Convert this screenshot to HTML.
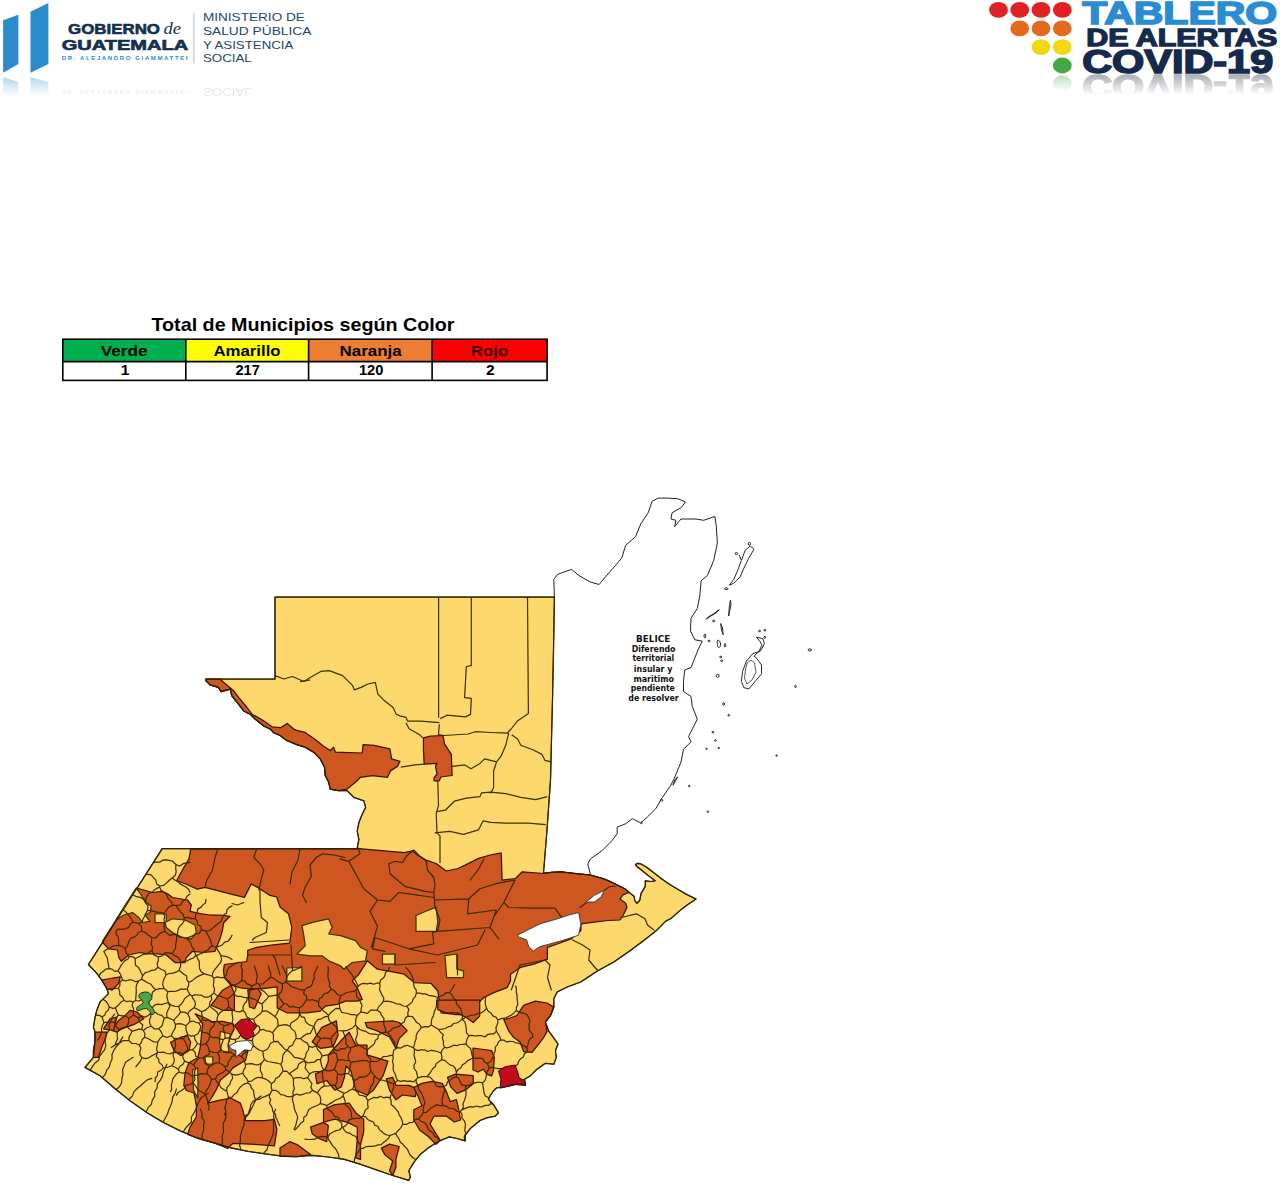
<!DOCTYPE html>
<html lang="es"><head><meta charset="utf-8"><title>Tablero de Alertas COVID-19</title>
<style>
html,body{margin:0;padding:0;background:#fff;}
body{width:1280px;height:1192px;overflow:hidden;}
svg{display:block;}
.y{fill:#FDD86C;stroke:#3b3400;stroke-width:1.25;stroke-linejoin:round}
.o{fill:#CE5621;stroke:#3b1200;stroke-width:1.25;stroke-linejoin:round}
.r{fill:#C10A1E;stroke:#3b0000;stroke-width:1;stroke-linejoin:round}
.g{fill:#4FA54F;stroke:#1e3300;stroke-width:1;stroke-linejoin:round}
.w{fill:#fff;stroke:#222;stroke-width:0.8;stroke-linejoin:round}
.l{fill:none;stroke:#3b3000;stroke-width:1.2;stroke-linejoin:round}
.m{fill:none;stroke:#3b2a00;stroke-width:1.2;stroke-linejoin:round;stroke-linecap:round}
.b{fill:none;stroke:#222;stroke-width:1;stroke-linejoin:round}
.ol{fill:none;stroke:#2a2400;stroke-width:1.1;stroke-linejoin:round}
.isl{fill:none;stroke:#111;stroke-width:0.9}
.hd{font-family:"Liberation Sans",Arial,sans-serif;font-weight:bold;}
</style></head>
<body>
<svg width="1280" height="1192" viewBox="0 0 1280 1192">
<defs>
<linearGradient id="fadeL" x1="0" y1="0" x2="0" y2="1"><stop offset="0" stop-color="#2C8BCB" stop-opacity="0.35"/><stop offset="1" stop-color="#2C8BCB" stop-opacity="0"/></linearGradient>
<linearGradient id="fadeG" x1="0" y1="0" x2="0" y2="1"><stop offset="0" stop-color="#9a9a9a" stop-opacity="0.45"/><stop offset="1" stop-color="#bbbbbb" stop-opacity="0"/></linearGradient>
<linearGradient id="mgrad" x1="0" y1="0" x2="0" y2="1"><stop offset="0" stop-color="#fff" stop-opacity="0.75"/><stop offset="0.8" stop-color="#fff" stop-opacity="0"/></linearGradient>
<linearGradient id="fadeGr" x1="0" y1="0" x2="0" y2="1"><stop offset="0" stop-color="#44A840" stop-opacity="0.35"/><stop offset="1" stop-color="#44A840" stop-opacity="0"/></linearGradient>
</defs>
<!-- Left logo -->
<g>
<polygon points="3.1,20.3 18.4,14.8 18.4,64 3.1,72.7" fill="#2C8BCB"/>
<polygon points="30.5,11.7 48.4,3.1 48.4,64 30.5,72.7" fill="#2C8BCB"/>
<polygon points="3.1,77 18.4,82 18.4,96 3.1,96" fill="url(#fadeL)"/>
<polygon points="30.5,77 48.4,82 48.4,96 30.5,96" fill="url(#fadeL)"/>
<text class="hd" x="68" y="33.6" font-size="15" fill="#15304f" stroke="#15304f" stroke-width="0.6" textLength="92" lengthAdjust="spacingAndGlyphs">GOBIERNO</text>
<text x="163.5" y="33.6" font-family="'Liberation Serif',serif" font-style="italic" font-size="17" fill="#15304f" textLength="17.5" lengthAdjust="spacingAndGlyphs">de</text>
<text class="hd" x="61.7" y="49.5" font-size="15.5" fill="#15304f" stroke="#15304f" stroke-width="0.7" textLength="126.6" lengthAdjust="spacingAndGlyphs">GUATEMALA</text>
<text class="hd" x="61.7" y="59.8" font-size="6" fill="#2C8BCB" textLength="125.8" lengthAdjust="spacing">DR. ALEJANDRO GIAMMATTEI</text>
<rect x="193" y="12.6" width="1.6" height="50.9" fill="#CCD3DC"/>
<g font-family="'Liberation Sans',Arial,sans-serif" font-size="11.3" fill="#25476b">
<text x="202.9" y="21.3" textLength="102" lengthAdjust="spacingAndGlyphs">MINISTERIO DE</text>
<text x="202.9" y="34.8" textLength="108.5" lengthAdjust="spacingAndGlyphs">SALUD PÚBLICA</text>
<text x="202.9" y="48.7" textLength="90.5" lengthAdjust="spacingAndGlyphs">Y ASISTENCIA</text>
<text x="202.9" y="62.4" textLength="48.9" lengthAdjust="spacingAndGlyphs">SOCIAL</text>
</g>
<g opacity="0.12" transform="translate(0,150) scale(1,-1)">
<text class="hd" x="61.7" y="59.8" font-size="6" fill="#2C8BCB" textLength="125.8" lengthAdjust="spacing">DR. ALEJANDRO GIAMMATTEI</text>
<text x="202.9" y="62.4" font-family="'Liberation Sans',Arial,sans-serif" font-size="11.3" fill="#25476b" textLength="48.9" lengthAdjust="spacingAndGlyphs">SOCIAL</text>
</g>
</g>
<!-- Right logo -->
<g>
<ellipse cx="998.5" cy="9.9" rx="9.4" ry="7.9" fill="#E02222"/>
<ellipse cx="1019.7" cy="9.9" rx="9.4" ry="7.9" fill="#E02222"/>
<ellipse cx="1041" cy="9.9" rx="9.4" ry="7.9" fill="#E02222"/>
<ellipse cx="1062.3" cy="9.9" rx="9.4" ry="7.9" fill="#E02222"/>
<ellipse cx="1019.7" cy="28.4" rx="9.4" ry="7.9" fill="#E46A1F"/>
<ellipse cx="1041" cy="28.4" rx="9.4" ry="7.9" fill="#E46A1F"/>
<ellipse cx="1062.3" cy="28.4" rx="9.4" ry="7.9" fill="#E46A1F"/>
<ellipse cx="1041" cy="47.1" rx="9.4" ry="7.9" fill="#F0D816"/>
<ellipse cx="1062.3" cy="47.1" rx="9.4" ry="7.9" fill="#F0D816"/>
<ellipse cx="1062.3" cy="65.5" rx="9.4" ry="7.9" fill="#45A843"/>
<ellipse cx="1062.3" cy="83.5" rx="9.4" ry="7.9" fill="url(#fadeGr)"/>
<text class="hd" x="1082.2" y="24" font-size="31.8" fill="#2A8DD4" stroke="#2A8DD4" stroke-width="1.6" textLength="195" lengthAdjust="spacingAndGlyphs">TABLERO</text>
<text class="hd" x="1086.2" y="46.4" font-size="24" fill="#152a4c" stroke="#152a4c" stroke-width="1.3" textLength="191" lengthAdjust="spacingAndGlyphs">DE ALERTAS</text>
<text class="hd" x="1082.2" y="72.5" font-size="33" fill="#152a4c" stroke="#152a4c" stroke-width="1.6" textLength="191" lengthAdjust="spacingAndGlyphs">COVID-19</text>
<mask id="mR" maskUnits="userSpaceOnUse" x="1070" y="74" width="210" height="26"><rect x="1070" y="74" width="210" height="26" fill="url(#mgrad)"/></mask>
<g mask="url(#mR)"><text class="hd" x="1082.2" y="-75" transform="scale(1,-1)" font-size="33" fill="#8a8f99" stroke="#8a8f99" stroke-width="1.6" textLength="191" lengthAdjust="spacingAndGlyphs">COVID-19</text></g>
</g>
<!-- Table -->
<g>
<text x="151.5" y="331.3" font-family="'Liberation Sans',Arial,sans-serif" font-weight="bold" font-size="18.6" fill="#000" textLength="303" lengthAdjust="spacingAndGlyphs">Total de Municipios según Color</text>
<rect x="62.8" y="339.2" width="123" height="22.4" fill="#00B050"/>
<rect x="185.8" y="339.2" width="123" height="22.4" fill="#FFFF00"/>
<rect x="308.6" y="339.2" width="123.5" height="22.4" fill="#ED7D31"/>
<rect x="432.1" y="339.2" width="115" height="22.4" fill="#FF0000"/>
<rect x="62.8" y="361.6" width="484.3" height="18.8" fill="#fff"/>
<g fill="none" stroke="#000" stroke-width="1.6">
<rect x="62.8" y="339.2" width="484.3" height="41.2"/>
<line x1="62.8" y1="361.6" x2="547.1" y2="361.6"/>
<line x1="185.8" y1="339.2" x2="185.8" y2="380.4"/>
<line x1="308.6" y1="339.2" x2="308.6" y2="380.4"/>
<line x1="432.1" y1="339.2" x2="432.1" y2="380.4"/>
</g>
<g font-family="'Liberation Sans',Arial,sans-serif" font-weight="bold" font-size="15.5" text-anchor="middle" fill="#000">
<text x="124.1" y="355.7" textLength="46.7" lengthAdjust="spacingAndGlyphs">Verde</text>
<text x="247" y="355.7" textLength="67.1" lengthAdjust="spacingAndGlyphs">Amarillo</text>
<text x="370.6" y="355.7" textLength="62" lengthAdjust="spacingAndGlyphs">Naranja</text>
<text x="489.5" y="355.7" textLength="37.6" lengthAdjust="spacingAndGlyphs" fill="#3a0000">Rojo</text>
<text x="125" y="375">1</text>
<text x="247.6" y="375" textLength="24.4" lengthAdjust="spacingAndGlyphs">217</text>
<text x="371.1" y="375" textLength="24.4" lengthAdjust="spacingAndGlyphs">120</text>
<text x="490.3" y="375">2</text>
</g>
</g>
<!-- Map -->
<g>
<polygon class="y" points="275,597 554.4,597 553.5,650 552.5,700 550.5,780 547,830 543.5,873 551.7,872.4 560.8,871.8 573.6,873.3 590.3,875 603.1,878.7 611.6,882.2 617.2,885 625.6,889.2 628.5,892 634.1,896.3 634.8,900.5 636.9,903.3 639.7,900.5 641.1,893.4 645.3,886.4 645.3,880.8 651,881.5 655.2,880.8 649.5,876.6 642.5,871 637,866.5 635.5,864.8 636.5,863.6 639,863.4 641.5,864.2 646.7,867.2 653.8,872.8 662.2,879.2 670.6,885 684.7,893.4 696,899.1 691.7,901.9 687.5,904.7 681.9,908.9 670.6,918.8 665.8,921.1 655.8,931.1 644.4,940 631,950 614.2,961.8 597.4,971 580.7,982 567.2,987 557.2,992 553.8,998.7 553.8,1007.1 550.5,1015.5 545.4,1022.2 548.8,1031.4 552.1,1035.6 558,1044 555.5,1050.7 556.3,1057.4 553.8,1064.2 545.4,1063.3 537,1069.2 530.3,1075.9 524.5,1079.3 525.3,1085.1 513.6,1084.3 501.8,1087.7 496.8,1087.7 493.4,1091 490,1096 488.4,1099.4 493.4,1104.4 498.5,1112.8 495.1,1116.2 486.7,1117.9 480,1120.5 470,1128.8 465.2,1135.3 465.2,1140.9 457.1,1138.5 449.1,1136.9 437.8,1141.7 428.1,1148.1 420.1,1154.6 413.7,1162.6 408.8,1170.7 410.4,1177.1 408.8,1180.4 392.7,1175.5 376.6,1169.9 360.5,1164.3 344.4,1159.4 328.3,1157 312.2,1155.4 296.1,1156.5 280,1155.8 264.6,1153.8 247.8,1151.3 231,1147.9 214.2,1142.9 197.4,1137.9 180.7,1131.1 163.9,1122.8 147.1,1112.7 130.3,1100.9 113.6,1087.5 100.1,1075.8 85,1067.4 93.4,1057.3 93.4,1050.6 95.1,1040.5 95.1,1032.1 93.4,1027.1 95.1,1017 96.8,1010.3 100.1,1001.9 108.5,993.6 106.8,988.5 101.8,980.1 96.8,973.4 88.4,964.5 101.8,943.6 137,888.2 162.2,848.6 358.9,848.6 357.2,847.8 358.9,839.4 357.2,831 358.9,822.6 362.2,814.2 365.6,807.5 363.9,800.8 353.8,797.4 347.1,790.7 338.7,790.7 330.3,789.1 328.7,782.3 325.3,775.6 324.5,767.2 320.3,758.9 313.6,752.1 305.2,747.1 296.8,744.6 286.7,740.4 280,735.4 273.8,732.7 270.5,729.3 263.8,726 255.4,719.3 250.3,714.2 243.6,710.9 238.6,704.2 235.2,700 231.9,695.8 230.2,689.1 221,691.6 218.5,687.4 210.1,684.9 205.9,680.7 205.9,679 275,679"/>
<polygon class="o" points="205.9,679 220.1,679 223.5,682.3 233.6,690.7 238.6,697.4 247,707.5 252,714.2 263.8,720.9 272.1,726.8 280.5,727.7 287.2,723.5 294,729.3 296.8,730.3 305.7,732.7 306.8,733.7 315.2,739.6 323.6,746.3 330.3,750.5 333.7,747.1 335.4,752.1 362.2,753 363.1,744.6 374,745.4 389.9,748.8 391.6,758.9 400,761.4 397.4,766.4 390.7,770.6 387.4,777.3 372.3,775.6 360.5,777.3 355.5,782.3 347.1,789.1 338.7,790.7 330.3,789.1 328.7,782.3 325.3,775.6 324.5,767.2 320.3,758.9 313.6,752.1 305.2,747.1 296.8,744.6 286.7,740.4 280,735.4 273.8,732.7 270.5,729.3 263.8,726 255.4,719.3 250.3,714.2 243.6,710.9 238.6,704.2 235.2,700 231.9,695.8 230.2,689.1 221,691.6 218.5,687.4 210.1,684.9 205.9,680.7"/>
<polygon class="o" points="423.5,737.9 430.2,736.2 443,735.5 444.5,743.8 451.3,754.4 452.1,775.5 440.8,777 439.3,780.8 434,780.8 434,777.8 437,774 435.5,766.4 437,763.4 424.2,764.2 423.4,749.8"/>
<polygon class="o" points="190.7,849 358.9,848.6 404.2,852.6 412.6,850.9 417.7,855.1 426,860.1 436.1,863.5 446.2,871 457.9,868.5 465.2,865.1 478.6,858.4 490.3,855 498.7,853.4 501.2,853 502.1,880.2 515.5,878.5 522.2,871.8 544,873.5 551.7,872.4 560.8,871.8 573.6,873.3 590.5,875.2 603.1,878.7 611.6,882.2 617.2,885 625.6,889.2 628.8,892.5 622.8,894.9 620,899.1 625.6,903.3 627,907.5 622.8,916 620,920 607.8,920.5 594.4,922.1 581,923.8 580.9,930.5 570.9,938.9 557.4,944 547.4,947.3 547.4,959.1 534,964.1 520.5,967.4 510.5,974.2 510.5,980.9 507.1,987.6 493.7,992.6 483.6,997.7 476.9,1004.4 470,1014.5 454.6,1014.5 441.1,1012.8 437.8,991 431.1,983.5 414.3,982.6 404.2,974.2 387.4,970.9 377.4,969.2 367.3,960.8 358.9,974.2 352.2,980.9 357.2,987.7 362.3,999.4 357.2,1001.1 345.5,1001.1 337.1,1004.4 325.4,1006.1 320.3,1011.1 306.9,1012.8 286.8,1012.8 277.2,1008 277.2,986.9 260.9,988.9 248.8,988.9 240.6,987.9 230.5,984.8 224.4,977.7 223.4,970.6 224.4,964.5 246.7,961.5 247.7,955.4 247.7,950.3 256.9,947.3 271.1,945.2 289.4,943.2 290.1,940.7 291.8,927.2 288.5,913.8 280.1,907.1 276.7,897 270,895.4 257.9,887.4 251.1,884 249.5,887.4 244.4,897.4 231,894.1 217.6,890.7 205,887.4 197.4,889.1 185.7,884 176.5,880.7 184,867.2 189,858.9"/>
<polygon class="o" points="136.3,888.1 143.8,890 152.5,892.5 162.5,891.3 167.5,893.8 172.5,897.5 187.5,900 191.3,905 190,911.3 201.3,913.8 210,915 220,915 230,916.3 223.8,922.5 222.5,930 220,938.8 217.5,945 215,951.3 203.8,952.5 192.5,951.3 186.3,957.5 185,962.5 175,962.5 166.3,955 157.5,953.8 147.5,953.8 140,952.5 128.8,955 121.3,961.3 118.8,957.5 117.5,950 108.8,948.8 103.8,943.8 102.5,941.3"/>
<polygon class="o" points="101.8,980.1 110.2,978.5 120.3,976.8 118.6,983.5 111.9,990.2 106.8,988.5"/>
<polygon class="o" points="130.3,1010.3 137,1012 143.8,1018.7 135.4,1023.8 121.9,1028.8 116.9,1032.1 111.9,1030.5 118.6,1020.4 125.3,1015.4"/>
<polygon class="o" points="103.5,1028.8 110.2,1018.7 116.9,1017 113.6,1030.5"/>
<polygon class="o" points="95.1,1032.1 106.8,1032.1 105.2,1038.9 101.8,1047.2 98.5,1057.3 93.4,1057.3 95.1,1040.5"/>
<polygon class="o" points="170.6,1042.2 180.7,1037.2 187.4,1035.5 190.7,1042.2 189,1050.6 180.7,1055.6 174,1050.6"/>
<polygon class="o" points="210.9,1005.3 222.6,990.2 231,985.2 234.4,993.6 234.4,1010.3 222.6,1010.3"/>
<polygon class="o" points="247.8,990.2 257.9,988.5 261.2,993.6 254.5,1008.7 249.5,1007"/>
<polygon class="o" points="195.2,1013.8 203,1017 212,1021.5 222.8,1021.3 232.9,1023.8 234.2,1028.9 230.4,1036.4 227.9,1045.2 235.4,1047.7 236.7,1052.8 240.4,1051.5 248,1050.3 245.5,1060.3 232.9,1067.9 229.1,1072.9 222.8,1077.9 220.3,1080.4 216.5,1089.2 211.5,1098 207.7,1103.1 217.8,1100.6 230.4,1098 240.4,1103.1 243,1110.6 245.5,1120.7 264.3,1120.7 274.4,1119.4 276.9,1129.5 274.4,1145.9 258,1144.6 232.9,1143.3 227.9,1148.4 214.2,1142.9 200.8,1139.5 187.6,1134.5 190.1,1127 196.4,1116.9 196.4,1105.6 193.9,1093 186.4,1090.5 183.8,1085.5 185.1,1072.9 188.9,1062.8 197.7,1057.8 200.2,1047.7 201.4,1035.2 202.7,1023.8"/>
<polygon class="o" points="312.2,1041.9 321.9,1027.4 336.4,1020.9 338,1035.4 333.1,1046.7 320.3,1048.3"/>
<polygon class="o" points="328.3,1054.8 344.4,1037 349.2,1032.2 355.7,1045.1 367,1045.1 367,1054.8 387.9,1061.2 383.1,1075.7 373.4,1090.2 367,1095 355.7,1090.2 350.9,1070.9 346,1066 344.4,1077.3 341.2,1087 334.8,1090.2 326.7,1080.5 317,1083.7 315.4,1074.1 325.1,1069.2 328.3,1061.2"/>
<polygon class="o" points="365.3,1022.5 392.7,1020.9 399.2,1022.5 407.2,1030.6 399.2,1038.6 395.9,1048.3 389.5,1037 376.6,1030.6 367,1027.4"/>
<polygon class="o" points="386.3,1078.9 392.7,1077.3 395.9,1085.3 408.8,1085.3 416.9,1088.6 415.3,1096.6 402.4,1095 395.9,1099.8 389.5,1090.2"/>
<polygon class="o" points="413.8,1087.5 421.9,1083.4 432,1081.4 442.2,1083.4 446.3,1091.6 450.3,1101.7 456.4,1099.7 458.4,1107.8 460.5,1120 454.4,1122 446.3,1116 434,1116 430,1124 440.2,1140.3 436.1,1144.4 428,1136.3 419.8,1130.2 413.8,1120 413.8,1109.8 421.9,1105.8 417.8,1095.6"/>
<polygon class="o" points="447.5,1077.3 455.5,1074.1 473.2,1075.7 473.2,1083.7 465.2,1090.2 457.1,1093.4 450.7,1086.9"/>
<polygon class="o" points="437.8,1000 479.7,1000 479.7,1016.1 473.2,1022.5 466.8,1017.7 457.1,1012.9 445.9,1012.9 437.8,1009.7"/>
<polygon class="o" points="323.5,1109.5 334.8,1104.7 349.2,1103.1 355.7,1112.7 363.7,1119.2 363.7,1132 360.5,1144.9 360.5,1159.4 355.7,1157.8 357.3,1138.5 357.3,1127.2 347.6,1122.4 334.8,1119.2 328.3,1120.8 323.5,1122.4"/>
<polygon class="o" points="310.6,1127.2 323.5,1122.4 328.3,1125.6 326.7,1141.7 318.6,1138.5 312.2,1133.7"/>
<polygon class="o" points="280,1148.1 289.7,1141.7 297.7,1144.9 304.2,1149.8 310.6,1154.6 296.1,1157 280,1156.2"/>
<polygon class="o" points="381.4,1148.1 389.5,1144.1 399.2,1146.5 395.9,1159.4 395.9,1167.5 392.7,1175.5 389.5,1170.7 392.7,1161 384.7,1154.6"/>
<polygon class="o" points="503.8,1019.5 510.2,1018 516.9,1015.5 523.6,1005.4 535.4,1001.2 547.1,1003 553.8,1007.1 550.5,1015.5 545.4,1022.2 547.1,1031.4 543.8,1037.3 538.7,1044 532,1052.4 523.6,1051.6 520.3,1042.3 513.6,1037.3 508.5,1030.6"/>
<polygon class="o" points="473,1048 480,1049 491.7,1050.7 494.3,1057.4 493.4,1070.9 491.7,1075.9 486.7,1074.2 483.4,1069.2 478,1072 473,1070"/>
<polygon class="y" points="301.9,925.6 313.6,922.2 328.7,918.9 332.1,927.2 328.7,934 340.5,935.6 355.6,940.7 360.6,947.4 367.3,950.7 365.6,960.8 352.2,962.5 343.8,969.2 340.5,965.8 328.7,960.8 322,955.8 310.3,955.8 296.8,954.1 305.2,945.7 303.6,934"/>
<polygon class="y" points="416,915.5 427.7,910.5 436.1,907.1 437.8,922.2 436.1,931.4 416,931.4"/>
<polygon class="y" points="382.4,954 395,954 395,964 382.4,964"/>
<polygon class="y" points="445,955.7 456.8,954 456.8,969.1 463.5,970.8 463.5,977.5 446.7,977.5"/>
<polygon class="y" points="286.8,968 301.9,967.5 301.9,981 286.8,981"/>
<polygon class="y" points="136.3,888.1 141.3,895 146.3,902.5 151.3,906.3 150,912.5 145,915 150,921.3 142.5,922.5 138.8,917.5 132.5,912.5 123.8,915 116,920 126,904"/>
<polygon class="y" points="155,913.8 166.3,914 166.3,922.5 155,922.5"/>
<polygon class="y" points="165,922.5 172.5,918.8 185,920 195,925 196.3,932.5 191.3,938.8 182.5,937.5 172.5,932.5 166.3,927.5"/>
<polygon class="y" points="220.3,1031.4 230.4,1034 228,1045 229,1052.8 221,1052 219.5,1042"/>
<polygon class="y" points="205.2,1056.5 212.8,1057 212.8,1064 205.2,1064"/>
<polygon class="y" points="192.6,1070 197.7,1068 198,1084 197.7,1098 193.5,1090"/>
<path class="m" d="M90.4,1069.9 92.6,1066.4 95,1063 98.7,1060.2 99.7,1056.2 102.1,1052.8 104.7,1049.6 105.8,1045.6 105,1040.8 105.8,1036.8 107.1,1032.9 109.6,1029.6 108.9,1024.8 110.7,1021.2 112,1017.4 114.6,1014.1M102.7,1077.4 105.4,1074.1 106.7,1070.2 109.4,1066.9 110.3,1062.8 112.1,1059.1 112,1054.4 113.7,1050.6 115.9,1047.1 118.8,1044 120.6,1040.3 123,1036.9M116.6,1089.2 119.7,1086.4 121.6,1082.8 121.9,1078.5 122.9,1074.5 122.6,1069.8 124.1,1066.1 125.5,1062.3 129.2,1059.7 133.2,1057.3M129,1099.2 132.3,1096.3 134,1091.6 137.1,1088.5 140.6,1085.8 143.8,1082.7 147.2,1079.9 151.8,1078.4M146.3,1111.5 148.2,1107.7 151.3,1104.3 152.3,1100.1 154.7,1096.4 154.7,1091.7 157,1088.1 157.5,1083.6 160.4,1080.1 162.4,1076.4 163.3,1072.1 165.1,1068.2 166.8,1064.2M163.3,1121.8 165.3,1117.9 167.5,1114 168.8,1109.8 170.6,1105.8 172.1,1101.6 172.6,1097.1 175.1,1093.3 176.4,1089.1M183.4,1131.7 185.6,1128.1 188.5,1125 191.5,1122 191.3,1117 193.8,1113.6 195.6,1109.8 197.2,1105.9 198.7,1101.9 200.8,1098.3 204.2,1095.6 208.3,1093.3M201.8,1138.7 202.2,1134.4 203.8,1130.1 203.5,1125.8 204.4,1121.5 201.9,1117.4 202,1113.1 200.4,1109M222.1,1144.7 222.5,1140.5 222,1136.2 223.6,1132 223.3,1127.7 223.2,1123.5 225.4,1119.4 226,1115.1 225.6,1110.8 225.1,1106.5M240.7,1149.4 239.5,1144.5 240.4,1140.5 240.4,1136.1 241.4,1132.2 242.6,1128.3 244.1,1124.5 244,1120 245,1116.1 249.3,1113.3 251,1109.6 252.9,1106 254.5,1102.2 257.1,1098.8 261,1095.9M263.6,1153.1 267,1149.8 268,1145.8 269.8,1142 271.5,1138.2 273.1,1134.3 273.5,1130.1 273.6,1125.9 273.5,1121.5 273.8,1117.3 273.9,1113.1 275.6,1109.3M172.2,861 169.1,860.4 166,859.9 163,860.1 160.1,862.1 157.1,862.2 154,862.3M172.2,861 176,864.5M190,862.4 186.5,862.8 183,863.7 179.8,866.1 176,864.5M386.3,1140.4 383.7,1142.3 381.3,1144.6 378.2,1144.9 375.3,1145.9 372.3,1146.3 369.1,1146.3 366,1146.7 363.3,1148.1 360.4,1148.9M354.1,1161.8 354.7,1158.2 356,1154.8 358.1,1151.8 360.4,1148.9M96.1,1015.1 99.3,1015.4 102.1,1016.9M103.3,999.4 106.1,1001.4 107.9,1004.1 109.3,1007M109.3,1007 108.3,1010.1 105.9,1012.1 104.8,1015.1 102.1,1016.9M97.6,1040.2 99.6,1037.6 100.7,1034.7 101.7,1031.7 101.5,1028.3 102.5,1025.4 103.9,1022.6M103.9,1022.6 102.1,1016.9M111.3,1047.7 112.1,1046.9M112.1,1046.9 115.2,1044.7 116.2,1041.8 117.6,1039 117.1,1035.5 117.4,1032.3 118.8,1029.4M103.9,1022.6 107.6,1022.1 111.2,1022.2 114.9,1022.5M118.8,1029.4 116,1026.4 114.9,1022.5M115.3,1007.8 112.2,1008.3 109.3,1007M115.3,1007.8 116.8,1011.5 118.3,1015.2M118.3,1015.2 115.8,1018.4 114.9,1022.5M533,1036.7 532.2,1033.6 529.5,1030.9 529.2,1027.7 528.9,1024.4 530,1020.9 528.9,1017.9M527.7,1051.8 526.7,1047.8M533,1036.7 530.1,1038.7 528.5,1041.5 528,1044.9 526.7,1047.8M515.7,986 516.4,989.1 516.3,992.2 517,995.2 517.1,998.3 517.4,1001.4 517.8,1004.4 516.4,1007.5 516.3,1010.6M528.9,1017.9 526.7,1014.4 523.2,1013.2 519.5,1012.3 516.3,1010.6M327.9,1137.2 329,1140.4 331.1,1143.1 332.8,1146.1 335.4,1148.5 337.1,1151.5 338.5,1154.6 339.1,1158.1M327.9,1137.2 329.7,1133.9 332.7,1132.2 335.8,1130.7 339.4,1130 341.8,1127.5M360.4,1148.9 360.4,1144.9 358.4,1142.5 357.2,1139.6 356,1136.5 352.7,1135.2 350,1133.4 346.4,1132.4 344.3,1130.1 342.7,1127.3M341.8,1127.5 342.7,1127.3M415.6,1159.4 412.7,1157.5 410.3,1155.2 408.7,1152.3 407.4,1149.1 405,1146.8 403,1144.3 400.3,1142.2 399.1,1139 397.2,1136.3 395.6,1133.4M439.2,1140.6 437.4,1137.7 434.4,1135.9 433,1132.7 429.8,1131.1 427.9,1128.3 426.6,1125 424.3,1122.6 420.9,1121.2 418.5,1118.9M418.5,1118.9 415.2,1119.6 412.6,1122.3 409.3,1122.7 406.4,1124.4 402.8,1124.1M402.8,1124.1 401,1127.6 398.3,1130.5 395.6,1133.4M386.3,1140.4 388.5,1138.2 390.1,1135.5M342.7,1127.3 345.5,1125.7 347.7,1123.4 348.7,1119.8 352.2,1118.9M352.2,1118.9 355.7,1118.4 359.5,1118.4 362.6,1116.2M362.6,1116.2 365.8,1116.9 367.7,1119.5 370.5,1120.9 373.4,1122 374.8,1125.3 377.9,1126.3 379.3,1129.6 381.7,1131.5 384,1133.6 386.8,1135 390.1,1135.5M390.1,1135.5 395.6,1133.4M327.9,1137.2 324.5,1136.7 321.2,1136.3 318,1137.2 314.8,1139.2 311.5,1139.3 308.3,1139.5 304.9,1139.2M270.6,977.2 268.1,979.5 265.4,981.4 263.1,983.9 259.3,984M270.6,977.2 270.7,973.3 269.2,969.7 268.4,966M254.2,966 255.6,969.4 256.5,972.8 257.4,976.3 256.4,980 256.5,983.5M256.5,983.5 259.3,984M241.7,963.2 241,966.7 242.6,970.2 241.9,973.7 242.3,977.3 241.4,980.7M241.4,980.7 244.7,980.9 246.7,983.6 249.5,984.9 252.3,985.9M252.3,985.9 256.5,983.5M107.8,989.8 111.2,988.6 114.8,988.7 118.4,988M115.3,1007.8 118.2,1005.3 120.7,1002.3 124.1,1000.3M118.4,988 119.6,991.2 119.8,994.8 122.6,997.3 124.1,1000.3M99.2,975.8 100.8,972.9 103.5,971.3 105.6,969.1 109,968.7M103.9,951.4 105.5,954.7 107.3,957.9 107.9,961.5 108.5,965.1 109,968.7M527.7,1051.8 524.5,1053.4 523.5,1056.7 520.7,1058.7 518.7,1061.2 517.7,1064.5 514.6,1066.1 513,1069 511.6,1072.1 509.4,1074.4M513.1,1083.9 512.8,1080.4 511.3,1077.3 509.4,1074.4M464.7,1140.1 464.2,1136.9 465.8,1133.4 464.8,1130.3 465.2,1127 465.4,1123.7 464.2,1120.7 461.8,1117.8 462.1,1114.5 460.1,1111.6M418.5,1118.9 421.1,1116.1 423.2,1112.7M460.1,1111.6 456.9,1111.5 454.6,1109 451.6,1108.5 448.6,1108 446,1106.1 443,1105.6M423.2,1112.7 426.3,1112.4 428.7,1110.3 431,1107.8 433.8,1106.6 436.3,1104.8 439.7,1105.3 443,1105.6M516.3,1010.6 513.7,1013.1 511,1015.4 507.9,1016.7 504.8,1018.2 501.1,1018.6 498,1020M498,1020 496.1,1017.3 492.9,1015.9 491,1013.1 488.2,1011.3 486.6,1008.3M485.6,997.5 485.2,1001.2 485.4,1004.8 486.6,1008.3M306.5,999.6 309.5,1000 312.7,999.7 315.7,1000.6 318.6,1001.9M306.5,999.6 306.7,996.2 303.5,993.5 304.7,989.9M304.7,989.9 307.1,987.9 310.7,986.4 312.4,983.9 312.9,980.8 314.6,978.3 313.9,974.5 315.2,971.7 316.5,969 317.7,966.3M328,966.4 328.4,969.7 328,973.1 327.9,976.4 328.4,979.6 329.7,982.8 329.3,986.2 331.4,989.2M318.6,1001.9 319.5,998.5 322.3,997.1 323.5,994 326.9,993.2 329.3,991.4 331.4,989.2M279.7,1125.5 278.2,1122.8 277.1,1119.9 275.7,1117.2 275.5,1114.1 272.8,1111.7 272.4,1108.6 271.2,1105.8 269.4,1103.2 270.7,1099.6 269.2,1096.9 270.3,1093.4M244.6,1120 246,1117 248.3,1114.5 249.1,1111.1 250.2,1107.9 250.9,1104.5 252.7,1101.7 255.6,1099.5M270.3,1093.4 267.6,1095.4 264.7,1096.6 261.7,1097.7 259,1099.4 255.6,1099.5M294,1129.3 295.5,1126.2 296.3,1123.2 297,1120.1 297.7,1117.1 296.6,1114.1 295.2,1111.1 294.2,1108 293.9,1105 293,1102 292.3,1099 293.3,1095.9M270.3,1093.4 272.1,1090.3M293.3,1095.9 289.8,1096.8 286.7,1096.4 283.8,1095 280.7,1094.6 278.2,1091.8 275.4,1090.3 272.1,1090.3M262.1,1077.9 258.2,1077.3 254.8,1078.6 251.7,1081 248.1,1081.6M262.1,1077.9 265.6,1079.1 268.7,1081 271.4,1083.6M255.6,1099.5 254.4,1096.7 253.8,1093.6 253.5,1090.4 251.4,1088 250.5,1085 247.8,1082.9M247.8,1082.9 248.1,1081.6M271.4,1083.6 271.2,1087 272.1,1090.3M247.8,1082.9 244.7,1083.8 242.1,1085.3 239.9,1087.5 238.2,1090.2 236.6,1093.1 233.9,1094.6 232,1097.1 228.4,1097.4M224.6,1114.7 226,1111.4 224.6,1107.4 226.1,1104.1 226.3,1100.6 228.4,1097.4M190,894.1 187.1,896.1 185.3,899.5 182.4,901.5 180.6,905 176.4,905.4M190,892.3 188.4,889.1 185.8,887.1 183,885.4 180,883.9 177.8,881.4 174.8,880 172.2,878M172.2,878 169.3,880.3 166.6,882.9 163.8,885.3 159.8,886M172.6,905.4 171.7,902.1 169.4,899.8 167.5,897.3 166.5,894.1 163.5,892.3 161,890.2 159.8,887.1M172.6,905.4 176.4,905.4M159.8,886 159.8,887.1M176,864.5 175.7,868 176.2,871.8 175.3,875.2 172.2,878M146.4,874.4 150.8,874.7 153.2,877.4 155.7,879.9 156.8,884.1 159.8,886M145.5,902.6 145.9,898.8 147.1,895.8 148.9,893.4 152.1,892.3 154.2,890.1 156.8,888.4 159.8,887.1M145.5,902.6 148.1,906.1 147.4,910.4M147.4,910.4 150.7,910.6 153.9,911.3 157.1,912.2 160.4,912.4 163.5,913.4M163.5,913.4 165.7,911.4 167.4,908.7 169.5,906.5 172.6,905.4M133.3,895 136.5,896.7 140.2,897.4 143.4,899.1 145.5,902.6M177,935.6 179.7,937.3 182.9,937.4 185.9,938.3M177,935.6 177.7,932.5 178.1,929.2 179.6,926.4 182.1,924 183.9,921.3 184.1,917.9M185.9,938.3 189.3,937.1 192.5,935.7 195.6,934 199.3,933.4 201.4,929.7M184.1,917.9 187.9,917.4 191.6,918.6 195.4,918.6M201.4,929.7 201,926.3 197.7,924.5 197.1,921.2 195.4,918.6M165.2,931.4 164.3,928.5 164,925.5 164.5,922.4 163.9,919.4 164.9,916.3 163.5,913.4M165.2,931.4 167.7,933.7 170.3,935.4 174.1,934.1 176.7,935.7M176.7,935.7 177,935.6M176.4,905.4 178,908.7 180.2,911.7 183,914.3 184.1,917.9M205.9,899.4 205.6,902.8 202.9,904.9 200.9,907.4 197.6,909.1 197.2,912.5 195.6,915.1 195.4,918.6M232,905.9 229.2,907.4 227.1,909.6 226.4,913.2 223.8,914.8 222.3,917.7 221.3,921 219,923 216.6,924.8 214.3,926.8 211.9,928.7 209.5,930.5 205.8,931.1M205.8,931.1 201.4,929.7M165.2,931.4 161.6,932.3 158.6,934.7 156,937.9 151.7,937.5M176.7,935.7 176.5,938.8 176.3,941.9 175.6,944.9 175.6,948.1 173.7,950.8 172.3,953.6M152,950.6 152.6,947.3 151,944 151.7,940.7 151.7,937.5M152,950.6 153.8,954.9 158.1,956.8M172.3,953.6 168.4,952.8 164.7,952.9 161.7,956.2 158.1,956.8M232,959.4 229.4,957.8 226.6,956.6 223.6,956.2 220.7,955.3M238.5,962.2 235.2,963.8 232.1,965.6 229,967.5 227.2,970.5 226.6,974.7 224.3,977.3M220.7,955.3 221.5,959.2 220.7,962.3 218.5,964.9 216.4,967.6 214.3,970.2 212.7,973 212.1,976.3M224.3,977.3 220.8,977.6 217.2,976.9 213.8,978.2M213.8,978.2 212.1,976.3M234.8,985 238.4,983.3 241.4,980.7M234.8,985 231.2,984.3 229.4,981.4 226.7,979.5 224.3,977.3M287,976.6 289.2,973.5 291.8,970.9 295.5,969.8 298.8,968.3 301.6,966M287,976.6 285.7,972.9 283.9,969.5 282.3,966M285.6,982 287,976.6M285.6,982 288.5,983.9 291.2,986.5 294.4,987.6 297.7,988.8 300.9,989.9 304.7,989.9M282.3,984 279.3,982.4 276.5,980.5 273.8,978.4 270.6,977.2M282.3,984 285.6,982M205.8,931.1 207.4,933.9 208.7,936.9 210.5,939.7 211,943 212.3,946M216.1,947.2 212.3,946M216.1,947.2 219.5,946.2 222.5,944.7 224.7,942.1 228.1,941.1 230.3,938.5 232,935.3M358.2,986.1 361.1,983.9 364.1,983.4 367.3,983.8 370.4,983.1 373.6,984.2 376.6,983.2 379.8,983.1M358.2,986.1 356.7,983.2 355.2,980.2 353.6,977.4 351.8,974.6 349.7,972 347.7,969.4 345.8,966.7M389.5,967.3 388.5,970.3 385.6,972.2 385,975.4 383.4,978.1 380.6,980 379.8,983.1M216.1,947.2 217.6,949.9 219.3,952.6 220.7,955.3M358.2,986.1 355.8,990.6M355.8,990.6 352.7,991.4 349.5,992 346.4,992.5 343.7,994.5 340.7,995.7M331.4,989.2 334.7,991.1 337.1,994.2 340.7,995.7M261.3,1063.4 260.3,1067.1 260.4,1070.7 262.2,1074.3 262.1,1077.9M261.3,1063.4 258.2,1064.8 254.9,1064.6 251.7,1063.7 248.5,1063.8 245.3,1064.4M248.1,1081.6 246.7,1078.6 244.5,1076.1 242.8,1073.2M245.3,1064.4 245.4,1067.6 243.5,1070.2 242.8,1073.2M212.3,946 209.6,947.5 207.7,950.3 204.6,951.2 202.2,953.2 199.2,954.2 196.4,955.6M212.1,976.3 208.2,974.8 204.1,973.8M204.1,973.8 200.9,971.5 199.6,968.5 199.3,965.1 199.3,961.5 197.7,958.6 196.4,955.6M185.9,938.3 188.8,940.3 190.8,943 191.7,946.3 193.6,949 194.8,952.1 195.8,955.4M172.3,953.6 174.6,955.6 177.6,956.9 179.6,959.1 180.8,962.2M195.8,955.4 193.4,958 190.3,959.1 187.4,960.8 184,961.3 180.8,962.2M195.8,955.4 196.4,955.6M143.3,1030.4 141.7,1029.4M143.3,1030.4 144.9,1033.6 144.6,1037.2M144.6,1037.2 142.3,1039.5 141.2,1042.6 139.4,1045.2M139.4,1045.2 136.1,1043.5 131.9,1043.5 129,1040.6M129,1040.6 129,1037.1 130.7,1034.1 132.1,1031.1M132.1,1031.1 135.3,1030.4 138.4,1029.2 141.7,1029.4M112.1,1046.9 114.8,1045.3 117.4,1043.9 120.2,1042.8 122.7,1040.7 125.9,1040.7 129,1040.6M118.8,1029.4 122.9,1027.7 127.2,1026.5M132.1,1031.1 129.4,1029.1 127.2,1026.5M118.3,1015.2 121.9,1015.9 125.6,1015.9 128.6,1018.4M127.2,1026.5 128.5,1022.6 128.6,1018.4M151.9,1008 152,1011.7M151.9,1008 149.4,1005.9 148.6,1002.7M148.6,1002.7 145.5,1001 142.4,999.4 138.8,1001 135.6,1000.5M150.9,1013.2 148.2,1015.5 145.3,1017.1 141.3,1015.8 138.5,1018M150.9,1013.2 152,1011.7M133.5,1015 138.5,1018M133.5,1015 133.5,1011.8 133.5,1008.5 132.1,1005.3 133,1002.1M133,1002.1 135.6,1000.5M151.2,1026.2 146.9,1027.7 143.3,1030.4M151.2,1026.2 149.6,1023 149.5,1019.7 150.9,1016.5 150.9,1013.2M141.7,1029.4 142.8,1025 139.3,1021.9 138.5,1018M128.6,1018.4 133.5,1015M124.1,1000.3 126.9,1001.7 130.2,1001 133,1002.1M138.6,981.1 141.5,979.2M138.6,981.1 135.3,981.7 132.3,980 129.1,979.8 125.8,981 122.6,979.9M135.2,958.5 132.5,956.6 129.3,956.5M135.2,958.5 135.2,961.9 135.6,965.2 138.4,967.4 140,970.1 141.3,972.9 142.6,975.8M129.3,956.5 127.8,959.2 124.8,960.6 122.9,963 121,965.4 119.6,968.1 118.1,970.8M122.6,979.9 121.4,976.7 120,973.6 118.1,970.8M142.6,975.8 141.5,979.2M155.5,989.7 152.4,992.2 151.8,996.1 150.4,999.5 148.6,1002.7M155.5,989.7 153,987.1 150.9,984.2 147.6,982.8 144.6,980.9 141.5,979.2M135.6,1000.5 135.9,997.2 136.1,993.9 136.3,990.7 136.1,987.3 136.8,984.1 138.6,981.1M118.4,988 119.9,985.4 119.9,981.9 122.6,979.9M152,950.6 149.3,952.1 146.7,954 143.4,954.3 140.7,955.8 138,957.3 135.2,958.5M158.1,956.8 158.4,960.3 157.2,963.8 157.9,967.3M157.9,967.3 155.2,969.8 151.6,970.4 148.4,971.8 145,972.9 142.6,975.8M109,968.7 112.1,969.1 114.7,971.4 118.1,970.8M466,1085.7 465.4,1088.8 466,1092 466,1095.1 465.2,1098.1 464.1,1101.1 463,1104 463.3,1107.2 461.7,1110M466,1085.7 469.3,1085.1 472.5,1083.6 475.7,1082.7 479,1082 482.6,1082.9M482.6,1082.9 483,1086.1 483.6,1089.4 484,1092.7 485.1,1095.7 488.6,1097.7M490.5,1102.2 491,1103.4M461.7,1110 464.5,1108.6 467.3,1107.6 470.2,1106.6 473.4,1107.2 476.2,1106 479.5,1106.9 482.5,1106.6 485.3,1105.4 488.4,1105.4 491,1103.4M456.4,1076.8 459,1078.9 460.3,1082.2 462.1,1085.1 466,1085.7M456.4,1076.8 453,1077.8 450.5,1079.9 447.7,1081.5 446.3,1085.2 443.3,1086.7M460.1,1111.6 461.7,1110M443.3,1086.7 445,1089.9 443.7,1093 442.9,1096.1 442.1,1099.3 442,1102.4 443,1105.6M492.4,1104.2 491,1103.4M509.4,1074.4 507.2,1071.5 504,1071.4 501.8,1068.5 498.6,1068.6 495.6,1068.1 492.6,1067.4 489.3,1067.8M489.3,1067.8 487.7,1070.7 486.5,1073.8 486.1,1077.2 485,1080.4 482.6,1082.9M443.3,1086.7 439.4,1086.9 436.2,1086 434.7,1082 432.4,1079.7 430.1,1077.2 426.6,1076.6M416.2,1079.4 417.8,1077.9M416.2,1079.4 416.1,1082.6 418.3,1085.3 418.2,1088.5 420.1,1091.2 422,1094 423.2,1096.9 423.9,1099.9 425,1102.8 423.6,1106.3 423.2,1109.5 423.2,1112.7M426.6,1076.6 422.1,1076.7 417.8,1077.9M374.3,1075.5 376.9,1078.3 380.1,1079.6 383.5,1080.5 386.9,1081.3 390.1,1082.6 393.4,1083.8M374.3,1075.5 373.7,1078.8 373.5,1082.2 371.8,1085.1 370.4,1088 369.2,1091.1 368.5,1094.3 365.6,1096.7M365.6,1096.7 367.9,1100.6M367.9,1100.6 370.9,1098.7 373.9,1097.4 377.2,1097.9 380.2,1096.3 383.6,1097.8 386.7,1097.2 390,1097.8M390,1097.8 391.2,1094.4 392.1,1090.9 393.8,1087.6 393.4,1083.8M402.8,1124.1 402.2,1120.8 401,1117.7 399.2,1115 398.2,1111.8 396.1,1109.3 393.9,1106.7 391.1,1104.5 391.2,1100.8 390,1097.8M362.6,1116.2 364.3,1113.3 365.3,1110.1 368.2,1107.7 367.6,1104 367.9,1100.6M416.2,1079.4 413.3,1081.9 410.2,1081.2 407.1,1081.4 403.9,1080.7 400.9,1081.4 397.7,1080.5M397.7,1080.5 393.4,1083.8M498,1020 497.6,1023.8 495.9,1027.4 496.4,1031.3M486.6,1008.3 484.1,1010.9 481.3,1012.8 477.9,1013.4 474.9,1014.9 471.4,1015.2 468.2,1016.3 465.2,1017.8 462.3,1019.4M462.3,1019.4 465,1022.1 465.8,1025.6 466.3,1029.2 466.5,1032.8 468.9,1035.7M468.9,1035.7 471.9,1035.3 475.2,1036 478.3,1035.6 481.4,1035.5 484.8,1037 487.5,1034.7 490.5,1033.9 493.7,1033.9 496.4,1031.3M526.7,1047.8 524.1,1046.1 521.5,1044.5 518.7,1043.1 515.7,1042.8 512.9,1041.5 509.8,1041.4 506.5,1041.9 503.9,1040.1 500.8,1039.9M489.3,1067.8 487.3,1063.6M487.3,1063.6 490.3,1061.8 491.9,1059.2 493.5,1056.6 494,1053.5 495.3,1050.7 495.2,1047.2 497.3,1044.9 498.4,1042 500.8,1039.9M500.8,1039.9 499.9,1036.8 498.1,1034 496.4,1031.3M454.6,984.5 453,987.3 451.2,990 449.5,992.8M462.3,1019.4 462,1019.3M449.5,992.8 452.2,995.1 453.4,998.1 456.1,1000.5 456.4,1003.9 458.9,1006.4 460.9,1009.1 461.6,1012.3 462.6,1015.4 462,1019.3M283.1,1071.4 286.7,1071.1 289.2,1073.7M283.1,1071.4 280.8,1073.9 278.9,1076.8 275.8,1078.4 274.3,1081.7 271.4,1083.6M293.5,1095.6 293.3,1095.9M293.5,1095.6 292.8,1092.2 294.4,1088.7 293.5,1085.3 293.5,1081.9 293.3,1078.5M293.3,1078.5 291.6,1075.8 289.2,1073.7M293.5,1095.6 296.5,1094.2 300.2,1095.1 303.3,1094.2 306.4,1093 309.7,1092.8 312.5,1090.4M293.3,1078.5 296.8,1077.7 300.4,1077.6 304,1078.7 307.6,1077.7M312.5,1090.4 310.9,1087.4 311.9,1083.3 309.6,1080.6 307.6,1077.7M289.2,1073.7 292,1071.8 294.7,1069.8 297.5,1068 298.6,1064.2 301.3,1062.2 304.4,1060.7M304.6,1060.8 305.9,1064.1 305.1,1068.1 307.3,1071 309.5,1073.9M304.6,1060.8 304.4,1060.7M307.6,1077.7 309.5,1073.9M304.6,1060.8 307.9,1063 311.1,1062.4 314.3,1062.2 317.3,1059.5 320.5,1059.6M322.5,1071.4 319.2,1071.7 315.8,1071.6 312.6,1072.2 309.5,1073.9M322.5,1071.4 323.7,1069.6M323.7,1069.6 321.9,1066.5 321,1063.1 320.5,1059.6M318.6,1001.9 318.7,1006 321.3,1008.2 323.4,1010.9 326.3,1013 328.4,1015.6M340.7,995.7 339.8,998.9 339.3,1002.1 339.4,1005.4 339.9,1008.7M339.9,1008.7 335.9,1008.4 333.3,1010.6 330.6,1012.8 328.4,1015.6M355.8,990.6 356.5,993.7 356.6,996.9 359.3,999.4 360.5,1002.4 362.1,1005.2 361.1,1008.6 360.9,1011.9M360.9,1011.9 357.2,1015.5M339.9,1008.7 341.8,1012.4 344.9,1013 348,1013.5 350.8,1014.7 354.2,1014.6 357.2,1015.5M379.8,983.1 380,986.3 379.4,989.6 380.9,992.4 382.3,995.4 383.9,998.2 383.3,1001.5M360.9,1011.9 364.3,1012.6 367.6,1013.3 370.6,1010.1 373.9,1010 377.2,1010.3M383.3,1001.5 381,1004.3 378.5,1006.9 377.2,1010.3M141.8,931.2 138.6,932.3 137,934.9 134.7,936.9 131.4,937.9 129.4,940.1 128.3,943.3 127.2,946.4 125.2,948.6M141.8,931.2 141.6,926.6 138.2,923.4M133,922 130.5,924 128.7,927.4 125.7,928.6 122.6,929.4 118.8,929.1 116.1,930.8M133,922 138.2,923.4M116.1,930.8 116.1,933.9 118,936.6 118.6,939.5 118.5,942.6 118.9,945.6M118.9,945.6 122.4,946.4 125.2,948.6M151.7,937.5 148.5,935.2 145.5,932.6 141.8,931.2M129.3,956.5 126.1,953.2 125.2,948.6M147.4,910.4 145.9,913.2 144.7,916.2 143,918.9 142.1,922.2 138.2,923.4M123.7,910.1 126,912.1 128,914.3 130,916.6 131.5,919.3 133,922M103.9,951.4 106.6,949.4 109.6,948.3 112.3,946.4 115.4,945.5 118.9,945.6M248.8,997 249.6,993.2 250.2,989.3 252.3,985.9M248.8,997 252.2,998.6 255.8,999.8 258.6,1002.4 262,1004M259.3,984 260.2,987.3 261.5,990.2 264.5,991.8 266.6,994.1 268.8,996.3M262,1004 264.3,1001.4 266.7,999 268.8,996.3M282.3,984 282.5,988.2 281.3,991.9 278.1,994.8M268.8,996.3 271.9,995.9 275,995.3 278.1,994.8M306.5,999.6 304.6,1002.7 302.6,1005.8 299.4,1007.7M299.4,1007.7 296.1,1007.5 293.1,1006.4 289.6,1007.1 287,1004.2 283.8,1003.5M278.1,994.8 279.6,998 281.6,1000.9 283.8,1003.5M261.3,1063.4 264.4,1059.6M283.1,1071.4 282.3,1067.7 280.8,1064.2M264.4,1059.6 267.4,1061.5 270.8,1062 274.1,1062.7 277.5,1063.2 280.8,1064.2M179,970.2 181.4,972.2 183.9,974.2 186.7,975.9 186.9,979.7 188.7,982.3M179,970.2 176.1,972.2 172.8,973.1 169.3,973.5 166.1,974.7M166.1,974.7 164.5,978 163.1,981.3 162.7,984.7 164.1,988.4M187.2,988.8 188.6,985.7 188.7,982.3M187.2,988.8 184,989.4 180.7,988.9 177.6,990.7 174.4,991.5 171.1,991.4 167.9,991.7M167.9,991.7 164.1,988.4M204.1,973.8 200.8,975.1 197.6,976.6 194.7,978.6 192,980.9 188.7,982.3M180.8,962.2 180.6,966.3 179,970.2M157.9,967.3 161,969.3 164.8,970.7 166.1,974.7M155.5,989.7 159.7,988.6 164.1,988.4M168.4,1002.6 165,1003.5 161.7,1004.6 157.9,1004.2 154.6,1005.1 151.9,1008M168.4,1002.6 167.4,999 166.8,995.4 167.9,991.7M247.4,997.7 243.8,997.4 240.5,996.3 236.8,996.4 233.9,993.7M247.4,997.7 246.8,1001 244.4,1003.8 243,1006.8 243.2,1010.4M243.2,1010.4 239.6,1011.9 236,1011.3 232.5,1009.9M233.9,993.7 230.7,996.4 227.3,999M227.3,999 228.5,1002.9 228.7,1007M232.5,1009.9 228.7,1007M234.8,985 236.1,989.5 233.9,993.7M248.8,997 247.4,997.7M240.7,1027.3 243,1025.1 245.1,1022.9 247.8,1021.1 249.9,1018.8M240.7,1027.3 237.2,1027 234.4,1025.7 232.2,1022.9M232.2,1022.9 232.8,1019.7 232.5,1016.4 232,1013.1 232.5,1009.9M249.9,1018.8 246.8,1016.7 245.4,1013.2 243.2,1010.4M213.8,978.2 213.8,981.9 213.3,985.5 214.6,989.2 213.9,992.9M213.9,992.9 216.8,995.6 220.6,996.1 223.8,997.8 227.3,999M468.9,1035.7 466.8,1039.5 466,1043.8M487.3,1063.6 484.6,1061.9 482.6,1058.6 479.6,1057.9 476.1,1058.3 473,1057.8M473,1057.8 471.9,1054.8 471.4,1051.6 470.5,1048.5 467.9,1046.4 466,1043.8M456.4,1076.8 456.4,1072.3M473,1057.8 470.2,1059.4 467.4,1060.9 465.2,1063.3 462.4,1064.8 460.9,1067.8 458.1,1069.4 456.4,1072.3M426.6,1076.6 429,1074.3 431,1071.7 432.6,1068.8 435.2,1066.8 436.3,1063.4 439.2,1061.6 441.8,1059.6M456.4,1072.3 455.4,1068.5 453.3,1066 450,1064.9 447.5,1062.9 445.2,1060.6 441.8,1059.6M405.8,967.5 408.1,969.9 410.2,972.3 411.5,975.1 412.9,977.9 413.3,981 413.7,984.2 414.2,987.3 416.2,989.8 416.3,993.1M383.3,1001.5 386.9,1001.2 390.3,1001.6 393.6,1002.5 396.8,1004 400.2,1004.2 403.3,1006 406.8,1006.3M416.3,993.1 415.4,996.4 413.2,998.9 412.1,1002.1 409.5,1004.3 406.8,1006.3M449.5,992.8 446.1,992.6 443.6,995 440.6,996 437.8,997.5M416.3,993.1 419.5,993 422.5,993.9 425.7,993.9 428.6,995.3 431.8,995.8 434.8,996.3 437.8,997.5M377.2,1010.3 380.5,1012.6 381.7,1015.7 384,1018.3 383.5,1022.1 384.1,1025.4 385.4,1028.5 385.9,1031.9M385.9,1031.9 387.6,1032.5M387.6,1032.5 390.4,1030.8 392.7,1028.4 396,1027.2 399.4,1026.3 401.4,1023.6 404.2,1021.9 405.4,1018.1 408,1016.1M406.8,1006.3 408.9,1009.4 407.8,1012.8 408,1016.1M335.4,1085.3 336.9,1089.4 340.4,1091.4 344,1093.3M335.4,1085.3 331.7,1085.1 328,1086 324.3,1086.1M324.3,1086.1 321.3,1087.6 319.2,1090.1 317.4,1092.9M343.1,1095.8 344,1093.3M343.1,1095.8 340.7,1098 337.7,1099.2 334.8,1100.5 332.2,1102.4 329.4,1103.9 326.7,1105.5M317.4,1092.9 320,1096 320.8,1099.7 320.4,1103.6M320.4,1103.6 323.6,1104.4 326.7,1105.5M312.5,1090.4 317.4,1092.9M322.5,1071.4 322.4,1075.1 323,1078.8 323.8,1082.4 324.3,1086.1M352.2,1118.9 351.4,1115.9 351.3,1112.6 350.2,1109.7 348.4,1107.1 345.5,1104.9 345.2,1101.7 344.4,1098.7 343.1,1095.8M365.6,1096.7 362.8,1095.6 359.5,1095.2 357.7,1092.4 355.4,1090.4 352.6,1089.1M352.6,1089.1 349.6,1090.3 347,1092.2 344,1093.3M341.8,1127.5 341.8,1123.4 339.3,1121.1 338.7,1117.5 334.5,1116.3 332.9,1113.4 330.6,1110.9 327.5,1109 326.7,1105.5M295.1,1129.9 297.1,1127.6 299.2,1125.4 301,1122.9 303.6,1121.2 303.8,1117.2 306.5,1115.5 307.6,1112.4 308.9,1109.4 311.6,1107.8 314.7,1106.5 317.7,1105.3 320.4,1103.6M374.3,1075.5 370.9,1071.1M352.6,1089.1 353.7,1086.3 354,1083.3 354.1,1080.3M354.1,1080.3 357.3,1079.4 359.5,1076.8 363.3,1077.2 366.4,1076.2 368.9,1074.1 370.9,1071.1M393,1055.2 393.1,1058.5 392.5,1061.9 393.5,1064.9 393,1068.3 393.8,1071.4 395.3,1074.4 396.1,1077.5 397.7,1080.5M393,1055.2 389.7,1055.7 386.5,1056.5 383.2,1056.7 380.4,1059.1 377.6,1061.4 374.3,1061.7 370.8,1061.2M370.8,1061.2 370.1,1062.7M370.9,1071.1 369.9,1066.9 370.1,1062.7M313.7,1026.3 310.4,1025.3 307.6,1023.7 305.5,1021.3 304.6,1017.6 301.3,1016.6 299.6,1013.8M313.7,1026.3 314,1026.3M299.4,1007.7 299.3,1010.8 299.6,1013.8M328.4,1015.6 328.3,1016.3M314,1026.3 315.5,1022.5 317.8,1019.6 321.5,1018.8 324.4,1016.9 328.3,1016.3M249.9,1018.8 253.8,1019.1M262,1004 262.5,1007.7 262.2,1011.3M253.8,1019.1 256.7,1016.6 259.7,1014.3 262.2,1011.3M283.8,1003.5 282,1006.1 279.6,1008.3 278,1011 276.7,1014 274.8,1016.5M262.2,1011.3 266.1,1010.8 269.1,1012.3 272,1014.4 274.8,1016.5M304.4,1060.7 303.9,1059.6M280.8,1064.2 282.3,1061.5 282.5,1058.1 283,1055 284.7,1052.4 287.4,1050.2M287.4,1050.2 289.9,1052.2 292.2,1054.6 294.3,1057.4 297.7,1057.8 300.8,1058.7 303.9,1059.6M231.8,1074.2 229,1071.6 225.8,1069.6M231.8,1074.2 232.7,1078.2 230.8,1081.3 229.6,1084.7 226.8,1087.6 226.9,1091.3M225.8,1069.6 223.4,1072.2 220,1073.7 217,1075.8 215.3,1079.2M226.9,1091.3 223.8,1089.6 221,1087.7 219.3,1084.7 217.1,1082.1 215.3,1079.2M245.3,1064.4 244.3,1060.1 241.7,1056.6M241.7,1056.6 238.2,1055.1M242.8,1073.2 239.2,1074.3 235.6,1075.1 231.8,1074.2M225.1,1066.9 225.8,1069.6M225.1,1066.9 228,1065.4 228.4,1061.6 230.4,1059.3 231.8,1056.4 235.4,1055.5M235.4,1055.5 236,1055.3M228.4,1097.4 227.7,1094.3 226.9,1091.3M208.7,1110 209.1,1106.5 207.8,1103.5 207.5,1100.2 206.3,1097.1 205,1094.1M215.3,1079.2 211.5,1078.8M205,1094.1 206.1,1090.9 208.1,1088.2 209.6,1085.2 210.8,1082.1 211.5,1078.8M139.4,1045.2 141,1048.1 139.8,1051.6 140,1054.8 141.9,1057.7M135.8,1066.8 138.1,1064 140.4,1061.1 141.9,1057.7M151.2,1026.2 154.6,1029 158.9,1028.6M152,1011.7 155.5,1012.5 158.3,1014.5 161.8,1015.4 164.2,1018.2M158.9,1028.6 162,1025.8 163.1,1022 164.2,1018.2M421.3,1027.6 424.6,1026.6 428.2,1026.9 431.3,1025.1M421.3,1027.6 419.5,1030.2 417.3,1032.7 416.2,1035.6 416.1,1038.9 415,1041.8 414.3,1044.9 413.5,1047.9M438.7,1029.5 435,1027.3 431.3,1025.1M438.7,1029.5 440.4,1032.2 443.3,1034.6 442.3,1038.3 443.5,1041.2 443.3,1044.5 444.6,1047.4M444.6,1047.4 442.2,1049.9 441,1053M441,1053 437.8,1051.8 434.6,1050.8 431.3,1050.3 427.7,1051.5 424.6,1049.8 421.2,1049.8 417.6,1050.6 414.5,1049M414.5,1049 413.5,1047.9M437.8,997.5 436.6,1000.4 436.6,1003.7 436.3,1006.9 435.1,1009.8 434.1,1012.8 433.4,1015.9 431.8,1018.8 431.3,1021.9 431.3,1025.1M408,1016.1 412.2,1016.5 414.5,1019.2 416.5,1022.3 419.5,1024.3 421.3,1027.6M397.6,1047.6 400.8,1048.1 404,1046.2 407.2,1045.3 410.4,1046.5 413.5,1047.9M397.6,1047.6 394.9,1045.7 394.6,1042.3 392.8,1039.9 391.5,1037.2 389.4,1034.9 387.6,1032.5M462,1019.3 459.5,1021.4 456.7,1023 453.5,1023.5 451.2,1026.2 448,1026.9 445.2,1028.5 442.1,1029.2 438.7,1029.5M466,1043.8 463,1044.4 459.8,1044.5 456.9,1045.7 453.7,1045.2 450.8,1046.6 447.8,1047.8 444.6,1047.4M441.8,1059.6 441.9,1056.3 441,1053M417.8,1077.9 417.1,1074.7 416.4,1071.5 414.2,1068.5 414,1065.3 415.7,1061.9 415,1058.7 414,1055.5 414.3,1052.2 414.5,1049M393,1055.2 393.6,1050.4 397.6,1047.6M348.6,1073.6 349.5,1069.9 350.1,1066.1 351.1,1062.4M348.6,1073.6 345,1073.6 341.5,1074.9 337.9,1074M338,1060.3 336.3,1063.1 335.7,1066.4 334.2,1069.3M338,1060.3 341.7,1059.5 345.5,1060.5 349.2,1060.4M349.2,1060.4 351.1,1062.4M337.9,1074 336.3,1071.5 334.2,1069.3M354.1,1080.3 351.9,1076.5 348.6,1073.6M370.1,1062.7 367,1060.7 363.8,1060.5 360.6,1060.7 357.4,1061.3 354.2,1061.7 351.1,1062.4M335.4,1085.3 337.1,1081.7 336.9,1077.7 337.9,1074M323.7,1069.6 327.2,1070.9 330.7,1070.8 334.2,1069.3M378.4,1035 375.2,1034.1 371.8,1034.2 368.7,1033.2 365.9,1031.4 362.7,1030.6 359.7,1029.5 357.2,1027M378.4,1035 377.9,1038.4 375.4,1040.2 374.5,1043.3 372.5,1045.6 370,1047.5 367.6,1049.5M357.2,1027 357.1,1030.1 357.6,1033.1 356.8,1036.3 355.6,1039.4 356.3,1042.5 358.8,1045.3M367.6,1049.5 364.5,1048.5 361.7,1046.8 358.8,1045.3M357.2,1015.5 356,1018.5 355.6,1021.7 355.5,1024.9M385.9,1031.9 382,1033.1 378.4,1035M355.5,1024.9 357.2,1027M370.8,1061.2 370,1058.3 367.6,1055.8 367.1,1052.8 367.6,1049.5M350.5,1047.9 354.6,1046.3 358.8,1045.3M350.5,1047.9 350.4,1051 348.5,1054 348.1,1057.1 349.2,1060.4M355.5,1024.9 352.9,1027.7 349.8,1029.2 346.6,1030.7 342.8,1030.9M350.5,1047.9 347.9,1046.4M342.8,1030.9 344,1034 345.4,1036.9 346,1040.2 345.8,1043.7 347.9,1046.4M328.3,1016.3 329,1019.8 331,1022.6 333.9,1024.8 336.4,1027.2 337.5,1030.5M342.8,1030.9 337.5,1030.5M299.6,1013.8 298.8,1017.2 296.6,1019.4 293.8,1021.3 291,1023.1 289.9,1026.3M274.8,1016.5 277.4,1019.1 277.9,1022.4 278.1,1025.8M278.1,1025.8 282.1,1025.2 286,1024.6 289.9,1026.3M313.7,1026.3 312.1,1029.9 310.4,1033.3 306.3,1034.2 303.3,1036.3 300.6,1038.6M300.6,1038.6 296.1,1038.5M289.9,1026.3 291.9,1029.1 294.8,1031.4 295.9,1034.7 296.1,1038.5M287.4,1050.2 287.4,1050.2M300.6,1038.6 303.5,1041.2 307.1,1042.9 309,1046.4M309,1046.4 308.4,1050 306.2,1052.9 305.6,1056.5 303.9,1059.6M296.1,1038.5 294.1,1041.5 292.6,1045 289.1,1046.9 287.4,1050.2M205,1094.1 202.3,1092.2 199,1090.8 196.9,1088.3 195.2,1085.3 193,1082.8M176.3,1095.3 178.4,1092.2 181.5,1090.5 184.3,1088.5 186.1,1085.1 190.1,1084.6 193,1082.8M225.1,1066.9 222.2,1064.5 219,1062.7M219,1062.7 215.2,1063.1 212.1,1064.9 209.1,1066.9M211.5,1078.8 209.5,1076.1 207,1073.8M209.1,1066.9 207.3,1070.1 207,1073.8M155.2,1081.7 155.3,1078 157.4,1075.6 157.7,1072 161,1070.3 163.3,1067.9M141.9,1057.7 145.6,1058.7 148.7,1057.8 151.5,1055.9 154.5,1054.5 157.3,1052.7M157.3,1052.7 156.3,1056.6 158.6,1059.2 159.1,1062.5 162.1,1064.9 163.3,1067.9M144.6,1037.2 147.9,1038.5 151,1040.3 154.1,1042 157.9,1041.9M158.9,1028.6 161.3,1032.1 162.8,1035.9M162.8,1035.9 159.9,1038.5 157.9,1041.9M157.3,1052.7 157.5,1052.3M157.9,1041.9 157.3,1045.3 156.6,1048.8 157.5,1052.3M163.3,1067.9 167.6,1067.3 171.6,1065.8M171.6,1065.8 173.9,1062.7 174.3,1059.4 173.1,1055.9 173.3,1052.5M157.5,1052.3 160.7,1052.4 163.8,1052.2 167,1053.5 170.1,1053.9 173.3,1052.5M168.4,1002.6 168.4,1002.7M164.2,1018.2 167,1017.4M168.4,1002.7 169.9,1006.5 167.9,1010.1 166.6,1013.6 167,1017.4M232.2,1022.9 228.2,1024.7 224,1025.8M228.7,1007 226.4,1009.4 223,1010.5 220.3,1012.4 218.2,1015.1M218.2,1015.1 217.2,1018 217,1021.1M224,1025.8 220.3,1023.7 217,1021.1M240.4,1035.3 238.5,1038.2 235.2,1039.3M240.4,1035.3 241.4,1031.3 240.7,1027.3M235.2,1039.3 231.8,1039.4 228.5,1037.8 225.1,1038.3M224,1025.8 223,1029 224.3,1032.1 225,1035.1 225.1,1038.3M333.4,1052.2 330,1054.6 326.1,1055.1 322.2,1055.8M333.4,1052.2 334.3,1049.8M334.3,1049.8 332.6,1046.3 331.4,1042.6 330.9,1038.8M322.2,1055.8 320.3,1052.3 317.5,1049.4 316.2,1045.6M330.9,1038.8 327.5,1038.3 324.1,1037.8 320.7,1038.5M316.2,1045.6 318.1,1041.8 320.7,1038.5M320.5,1059.6 322.2,1055.8M338,1060.3 337,1057.3 336.6,1053.9 333.4,1052.2M347.9,1046.4 344.8,1048.8 341.2,1048.6 338.1,1050.7 334.3,1049.8M337.5,1030.5 335.3,1033.2 332.6,1035.6 330.9,1038.8M309,1046.4 312.8,1047.3 316.2,1045.6M314,1026.3 314.9,1029.8 315.8,1033.3 317.7,1036.2 320.7,1038.5M273.9,1041.7 273.3,1038.7 273.6,1035.6 272.6,1032.7M273.9,1041.7 270.4,1043.2 268.9,1047.1 266.5,1049.8 263,1051.3M272.6,1032.7 269.6,1031.2 266.3,1031 263.4,1029.3 259.9,1030.2M259.9,1030.2 258.1,1032.9 255.5,1035.1 253,1037.3 252.3,1040.9M263,1051.3 259.5,1050.2 256.6,1048.2 253.7,1046.1M253.7,1046.1 252.3,1040.9M278.1,1025.8 275.3,1029.2 272.6,1032.7M287.4,1050.2 284.4,1049 282.3,1046.3 279.9,1044 277.9,1041.3 273.9,1041.7M264.4,1059.6 263.2,1055.5 263,1051.3M253.8,1019.1 254.4,1022.4 256.3,1024.9 259.4,1026.8 259.9,1030.2M240.4,1035.3 243.5,1036.3 245.6,1039.5 249,1040.1 252.3,1040.9M241.7,1056.6 243.3,1053.6 246.4,1052.3 248.8,1050.3M252.2,1047.4 253.7,1046.1M235.2,1039.3 235.7,1042.4M194.3,1075.8 191,1075.9 188.5,1073.4 185.5,1072.5 182.2,1073.2 179.3,1072M194.3,1075.8 194.7,1075.3M194.7,1075.3 194.6,1071.8 195.9,1068.1 193.6,1064.9M193.6,1064.9 190.8,1063.2 187.5,1062.4 184.6,1061M184.6,1061 183,1064.2 180,1066.3 178.3,1069.3M178.3,1069.3 179.3,1072M170.5,1091.7 171.7,1088.9 171.3,1085.3 172.1,1082.3 172.7,1079.2 174.4,1076.6 176.3,1074.1 179.3,1072M193,1082.8 195,1079.5 194.3,1075.8M207,1073.8 203.9,1073.9 200.8,1073.6 197.8,1075.2 194.7,1075.3M183.2,1054 180.1,1052.5 176.8,1052.6 173.6,1052.4M183.2,1054 182.8,1057.7 184.6,1061M171.6,1065.8 175.1,1067.2 178.3,1069.3M173.6,1052.4 173.3,1052.5M187.2,988.8 188.3,991.8 190.1,994.5M168.4,1002.7 171.3,1005.3 174.8,1006.3 178.6,1006.5M190.1,994.5 187.2,996.4 184.7,998.5 183.1,1001.6 181.1,1004.3 178.6,1006.5M213.9,992.9 211,995.5M218.2,1015.1 216.9,1012 214.5,1010 211.9,1008.1 209.6,1005.9M211,995.5 211.8,999.2 209.8,1002.4 209.6,1005.9M190.1,994.5 191.8,995.9M211,995.5 207.9,997.2 204.6,997.2 201.4,995.2 198.2,995 195,994.9 191.8,995.9M162.8,1035.9 167.1,1037.5 171.3,1035.8M173.6,1052.4 174.8,1048.8 175.7,1045.3 175.1,1041.7 173.8,1038.1M173.8,1038.1 171.3,1035.8M183.2,1054 185.4,1051.7 187.9,1049.8M173.8,1038.1 176.9,1038.4 180.1,1038.6 183.3,1038.7M187.9,1049.8 187.3,1046.8 186.1,1044 184.8,1041.3 183.3,1038.7M235.4,1055.5 232.7,1053.7 230.1,1051.8 226.9,1051.8 223.7,1051.4 221,1049.8M225.1,1038.3 223.2,1039.7M223.2,1039.7 222.1,1043 221,1046.3 221,1049.8M219,1062.7 219.6,1059.2 219,1055.8 217.8,1052.5M221,1049.8 217.8,1052.5M171.3,1035.8 172.4,1033 173.9,1030.3 175.4,1027.6 175.4,1024.4M183.3,1038.7 185.3,1036.4 187.7,1034.5M187.7,1034.5 186.1,1030.3 186,1025.7M186,1025.7 182.6,1024.2 179.1,1023.6 175.4,1024.4M167,1017.4 170.3,1018.8 173.6,1020.3M178.6,1006.5 180.5,1012.1M180.5,1012.1 178.5,1015.1 176,1017.7 173.6,1020.3M173.6,1020.3 175.4,1024.4M217,1021.1 214.8,1022.2M214.8,1022.2 214,1025.7 211.1,1028.3 209.6,1031.5 209.6,1035.3M223.2,1039.7 219.8,1038.9 216.7,1037.4 213.1,1037.6 209.9,1036.2M209.6,1035.3 209.9,1036.2M189.8,1021.9 189.7,1017.7 187.8,1014.1M189.8,1021.9 193,1021 195.9,1022.3 198.9,1023.3M187.8,1014.1 189.2,1011.2 191.6,1009.4 194.2,1007.6M202.6,1019.5 202,1015.7 201.6,1011.7M202.6,1019.5 198.9,1023.3M201.6,1011.7 198,1009.5 194.2,1007.6M186,1025.7 189.8,1021.9M180.5,1012.1 184.5,1012 187.8,1014.1M187.7,1034.5 190.8,1036.1 194.3,1035.7M199.8,1030.1 198,1033.8 194.3,1035.7M199.8,1030.1 200.9,1026.5 198.9,1023.3M191.8,995.9 193,998.7 194.9,1001.4 195.5,1004.3 194.2,1007.6M214.8,1022.2 211.5,1022.4 208.8,1020.1 205.5,1020.7 202.6,1019.5M209.6,1005.9 207.5,1008.6 204.7,1010.4 201.6,1011.7M199.8,1030.1 202.8,1032.3 206.7,1032.8 209.6,1035.3M199.2,1058 203,1058M199.2,1058 195.7,1056.2 195.1,1052.2 192.5,1049.7M203,1058 205.4,1055.9 209,1054.8 209.3,1050.9M192.5,1049.7 195.3,1046.8 197.5,1043.5M197.5,1043.5 201.8,1045 206.1,1043.6M209.3,1050.9 208.2,1047 206.1,1043.6M209.1,1066.9 206.9,1064 204.6,1061.2 203,1058M193.6,1064.9 196.1,1061.2 199.2,1058M187.9,1049.8 192.5,1049.7M217.8,1052.5 213.4,1052.4 209.3,1050.9M194.3,1035.7 195.1,1039.9 197.5,1043.5M209.9,1036.2 208.5,1040.1 206.1,1043.6"/>
<polyline class="l" points="438.6,597 438.6,717.7"/>
<polyline class="l" points="471.3,597 471.3,665.7 466.3,666.5 464.6,697.6 471.3,698.4 470.5,714.4 465.4,716.9 447,715.2 440.3,718.6"/>
<polyline class="l" points="527.5,597 528.4,713.5 517.4,721.1 510.7,729.5 507.4,732.8"/>
<polyline class="l" points="275,675.6 283.9,679 292.3,676.5 304,681.5 310.7,677.3 320.8,671.4 329.2,670.6 342.6,675.6 352.7,685.7 354.4,689.9 361.1,687.4 367.8,684 375.3,682.3 377.9,694.1 384.6,700.8 393,707.5 396.3,714.2 400,715.9 406,717.4 407.6,721.1 421.1,721.1 439.3,722.7"/>
<polyline class="l" points="406,722.7 409.1,728.7 419.6,734.7 422.7,737.8"/>
<polyline class="l" points="439.3,724.2 438.5,734.7 443.8,735.5 468,734 475.5,731.7 490.6,732.5 508.7,733.2"/>
<polyline class="l" points="508.7,733.2 505.7,745.3 501.2,755.9 496.6,761.9 493.6,771 493.6,787.6 490.6,793.6"/>
<polyline class="l" points="511.7,734.7 517.8,739.3 520.8,745.3 532.9,749.8 542,754.4 545,760.4 551,761.9"/>
<polyline class="l" points="400.8,767.2 415.1,764.9 424.2,764.2"/>
<polyline class="l" points="452,766.4 464.9,764.9 471,768.7 480,763.4 484.6,758.9 496.6,761.9"/>
<polyline class="l" points="436.2,780.8 437.8,781.5 438.5,805.7 436.2,813.3 437,832.9 440,835.9 440,863.1"/>
<polyline class="l" points="436.2,811.7 445.3,810.2 454.4,801.2 466.4,798.2 480,796.6 481.5,792.9 490.6,792.1 505.7,793.6 520.8,797.4 535.9,799.7 547.2,796.6"/>
<polyline class="l" points="434.7,832.9 449.8,831.4 463.4,834.4 478.5,829.9 483.1,820.8 490.6,822.3 505.7,823.1 528.4,823.1 545.7,824.6"/>
<polyline class="l" points="300.1,681.7 310.2,680"/>
<path class="m" d="M217.5,850 215,857.5 212.5,870 206.3,881.3 205,887.5M256.3,850 253.8,857.5 260,863.8 263.8,870 261.3,878.8 258.8,890M345,857.5 333.8,855 322.5,853.8 316.3,857.5 310,865 311.3,876.3 305,887.5 302.5,895 306.3,902.5M232,903.5 237.5,905 243.8,902.5M260,890 260,901.3 261.3,917.5 267.5,922.5 266.3,932.5 255,937.5 252.5,940M250,942.5 288.8,940M247.5,955 272.5,955 290,955M272.5,955 275,958 280,975M291,945 292.5,970M340,858.8 348.8,861.3 363.8,888.8 377.5,900 390,901.3 398.8,892.5 408.8,893.8 433.8,897.5M348.8,861.3 360,853.8 358.8,850M377.5,900 370,911.3 377.5,926.3 373.8,938.8 371.3,947.5M388.8,863.8 395,861.3 402.5,862.5 406.3,856.3 413.8,850 420,856.3 426.3,861.3 427.5,870 433.8,877.5 435,885 433.8,892.5 425,891.3 415,888.8 405,886.3 398.8,881.3 390,873.8 388.8,863.8M433.8,892.5 435,907.5 440,920 437.5,931.3 432.5,932.5 433.8,943.8 408.8,948.8 375,937.5 372.5,948.8 385,951.3M435,900 468.8,898.8 480,888.8 500,882.5M468.8,898.8 467.5,913.8 496.3,910M437.5,931.3 490,927.5 496.3,910M408.8,948.8 437.5,955 477.5,945 485,930M490,927.5 498.8,938.8M457.5,955 457.5,975M395,955 395,965 435,962.5M515,880 503.8,902.5 495,915M503.8,902.5 508.8,907.5 532.5,908.1 555,908.1 562.5,918.8M495,883.8 515,880M580,907.5 586,903M604.5,889.9 610,886.5 615,886.3M572.5,940 582.5,945 590,950 588.8,960 595,967.5 597.5,970M621.3,917.5 636.3,913.8 645,918.8 647.5,925 653.8,930M545,960 550,965 547.5,977.5 551.3,990M511.3,990 520,965 545,960M300,849 298,860 292,872 290,884M470,880 478,870 484,859"/>
<polygon class="r" points="498.5,1070.9 505.2,1066.7 515.2,1065 517.8,1072.6 519.4,1078.4 524.5,1080.1 525.3,1085.1 518.6,1083.5 510.2,1086 500.1,1087.7 501,1079.3"/>
<polygon class="r" points="234.4,1025.4 241.1,1019.6 247.8,1018.7 257,1026.3 252.8,1031.3 254.5,1035.5 247.8,1038.9 242.8,1038 237.7,1030.5"/>
<polygon class="g" points="139.1,994.7 141.2,992.9 144.7,992 148.5,992.3 150.5,994.4 152,997.3 151.7,999.4 149.1,1001.4 148.8,1003.2 150.5,1005.5 152.9,1008.5 154.4,1011.4 154.1,1013.5 152,1014.9 150.5,1012.9 149.4,1010.8 146.4,1008.5 143.2,1008.8 140.3,1010.2 137.3,1010.8 136.5,1008.5 137.3,1007 139.7,1005.5 142.3,1003.8 143.2,1002.6 142.3,1000.8 140.6,998.8 138.8,997.3"/>
<polygon class="w" points="517.4,935.2 526.5,930.6 540.1,923.8 555.9,919.3 569.5,914.8 578.6,912.5 580.9,923.8 578.6,935.2 565,939.7 549.1,944.2 540.1,946.5 533.3,951 528.7,946.5 526.5,939.7 519.7,937.4"/>
<polygon class="w" points="586,902 594.4,895.3 604.4,890.3 601.1,897 594.4,902"/>
<polygon class="w" points="229.3,1045.6 237.7,1041.4 247.8,1040.5 252.8,1045.6 251.1,1050.6 244.4,1049.8 239.4,1054 236,1057.3 236,1050.6 231,1048.9"/>
<polyline class="b" points="554.4,597 553.8,579.4 557.6,574.4 571.5,569.4 579,575.6 590.3,582 599.1,584.5 605.4,576.9 614.3,566.8 621.8,558 625.6,545.4 635.6,536.6 640.7,524 648.2,512.7 652,501.4 658.3,498.1 668.4,498.1 678.4,498.9 685.5,502.1 681,507.7 672.1,512.7 670.9,519 675.9,520.3 674.7,526.6 681,519 696,519 703.6,520.3 714.9,516.5 716.2,525.3 717.4,542.9 713.7,560.5 707.4,575.6 701.1,580.7 699.8,595.8 697.3,608.4 691,618.4 690.5,631 694.8,639.8 702.3,641.1 698.6,648.6 693.5,661.2 691,667.5 684.7,670 683.5,681.4 683.5,691.4 691,696.5 692.3,706.5 697.3,719.1 692.3,729.2 688.5,736.7 691,741.8 683.5,749.3 681,762 674.2,778.5 670.9,785.2 661.6,798.6 655.8,808.7 647.4,817 640.7,822.9 632.3,818.7 625.6,823.8 617.2,827.1 617.2,833.8 612.1,840.5 602.1,850.6 590.3,859 587.8,864 590.3,874.1"/>
<polygon class="ol" points="275,597 554.4,597 553.5,650 552.5,700 550.5,780 547,830 543.5,873 551.7,872.4 560.8,871.8 573.6,873.3 590.3,875 603.1,878.7 611.6,882.2 617.2,885 625.6,889.2 628.5,892 634.1,896.3 634.8,900.5 636.9,903.3 639.7,900.5 641.1,893.4 645.3,886.4 645.3,880.8 651,881.5 655.2,880.8 649.5,876.6 642.5,871 637,866.5 635.5,864.8 636.5,863.6 639,863.4 641.5,864.2 646.7,867.2 653.8,872.8 662.2,879.2 670.6,885 684.7,893.4 696,899.1 691.7,901.9 687.5,904.7 681.9,908.9 670.6,918.8 665.8,921.1 655.8,931.1 644.4,940 631,950 614.2,961.8 597.4,971 580.7,982 567.2,987 557.2,992 553.8,998.7 553.8,1007.1 550.5,1015.5 545.4,1022.2 548.8,1031.4 552.1,1035.6 558,1044 555.5,1050.7 556.3,1057.4 553.8,1064.2 545.4,1063.3 537,1069.2 530.3,1075.9 524.5,1079.3 525.3,1085.1 513.6,1084.3 501.8,1087.7 496.8,1087.7 493.4,1091 490,1096 488.4,1099.4 493.4,1104.4 498.5,1112.8 495.1,1116.2 486.7,1117.9 480,1120.5 470,1128.8 465.2,1135.3 465.2,1140.9 457.1,1138.5 449.1,1136.9 437.8,1141.7 428.1,1148.1 420.1,1154.6 413.7,1162.6 408.8,1170.7 410.4,1177.1 408.8,1180.4 392.7,1175.5 376.6,1169.9 360.5,1164.3 344.4,1159.4 328.3,1157 312.2,1155.4 296.1,1156.5 280,1155.8 264.6,1153.8 247.8,1151.3 231,1147.9 214.2,1142.9 197.4,1137.9 180.7,1131.1 163.9,1122.8 147.1,1112.7 130.3,1100.9 113.6,1087.5 100.1,1075.8 85,1067.4 93.4,1057.3 93.4,1050.6 95.1,1040.5 95.1,1032.1 93.4,1027.1 95.1,1017 96.8,1010.3 100.1,1001.9 108.5,993.6 106.8,988.5 101.8,980.1 96.8,973.4 88.4,964.5 101.8,943.6 137,888.2 162.2,848.6 358.9,848.6 357.2,847.8 358.9,839.4 357.2,831 358.9,822.6 362.2,814.2 365.6,807.5 363.9,800.8 353.8,797.4 347.1,790.7 338.7,790.7 330.3,789.1 328.7,782.3 325.3,775.6 324.5,767.2 320.3,758.9 313.6,752.1 305.2,747.1 296.8,744.6 286.7,740.4 280,735.4 273.8,732.7 270.5,729.3 263.8,726 255.4,719.3 250.3,714.2 243.6,710.9 238.6,704.2 235.2,700 231.9,695.8 230.2,689.1 221,691.6 218.5,687.4 210.1,684.9 205.9,680.7 205.9,679 275,679"/>
</g>
<g fill="#fff" stroke="#111" stroke-width="0.9">
<path d="M750.2,546 L754,549.2 L748.9,558 L743.9,568.1 L740.1,576.9 L733.8,583.2 L729.3,585.2 L733.8,579.4 L737.6,570.6 L741.4,560.5 L745.1,550.5 Z"/>
<path d="M739.2,555 L741.2,560" fill="none"/>
<ellipse cx="749.3" cy="543.8" rx="1.2" ry="1.4"/>
<ellipse cx="736.3" cy="553.5" rx="1.2" ry="1"/>
<ellipse cx="726.3" cy="588.7" rx="1.8" ry="0.9"/>
<path d="M730.6,600.3 L731,605 L729.6,611 L728.7,616 L729.2,608 L730,602 Z"/>
<path d="M719.2,609.6 L716,613 L710,616.5 L706.1,619.2 L708,617.2 L714,613.5 Z"/>
<ellipse cx="713.7" cy="621" rx="1.1" ry="0.9"/>
<path d="M720.7,623.5 L722.5,628 L723.2,634.8 L721.5,630 Z"/>
<ellipse cx="704.9" cy="636" rx="0.9" ry="2"/>
<ellipse cx="709.1" cy="641" rx="0.9" ry="0.9"/>
<path d="M717.4,640.3 C718.5,640 720.4,641 720.6,644 C720.8,647 719,648.3 718,647 C717.3,645 717,642 717.4,640.3 Z"/>
<ellipse cx="725" cy="645.3" rx="0.8" ry="1.8"/>
<ellipse cx="720.7" cy="657" rx="1" ry="0.8"/>
<ellipse cx="721.7" cy="660.7" rx="1" ry="0.8"/>
<circle cx="717.7" cy="675.8" r="1.5"/>
<path d="M756.5,637.3 L762.8,638.6 L764.5,643.6 L760.2,651.2 L752.7,653.7 L746.4,661.2 L742.6,671.3 L741.4,681.4 L743.9,687.7 L748.9,688.9 L755.2,681.4 L761.5,673.8 L761.5,665 L757,658.7 L754,656.2 L759,651.2 L762,645 L760,641.5 Z"/>
<path d="M745.5,670 L747,663 L751,660 L754.5,663 L756,672 L752,680 L747,684 L744.5,678 Z" fill="none" stroke-width="0.7"/>
<ellipse cx="759.5" cy="631" rx="1" ry="0.8"/>
<ellipse cx="764.8" cy="630.2" rx="1" ry="0.8"/>
<ellipse cx="764.8" cy="637.3" rx="0.9" ry="0.9"/>
<ellipse cx="809.8" cy="649.9" rx="1.7" ry="1.1"/>
<ellipse cx="795.5" cy="686.4" rx="0.7" ry="1.2"/>
<ellipse cx="723.7" cy="704" rx="0.9" ry="1.2"/>
<ellipse cx="728.8" cy="715.3" rx="0.9" ry="0.8"/>
<ellipse cx="712.9" cy="732.2" rx="0.9" ry="0.8"/>
<ellipse cx="715.4" cy="740.5" rx="0.8" ry="0.8"/>
<ellipse cx="706.6" cy="748.8" rx="0.8" ry="0.7"/>
<ellipse cx="718.7" cy="748" rx="0.8" ry="0.7"/>
<ellipse cx="776.6" cy="755.6" rx="0.8" ry="0.7"/>
<ellipse cx="689.3" cy="786" rx="0.8" ry="0.8"/>
<ellipse cx="707.8" cy="811.7" rx="0.8" ry="0.8"/>
<path d="M677.6,776.8 L675.5,781 L673,785.2 L674.8,780 Z"/>
<ellipse cx="661.6" cy="800.3" rx="1.2" ry="0.9"/>
<ellipse cx="641.5" cy="822.9" rx="0.8" ry="0.8"/>
</g>
<g font-family="'DejaVu Sans',sans-serif" font-weight="bold" font-size="9" fill="#111" text-anchor="middle">
<text x="653.1" y="642.1" textLength="34.2" lengthAdjust="spacingAndGlyphs">BELICE</text>
<text x="653.6" y="651.7" textLength="43.9" lengthAdjust="spacingAndGlyphs">Diferendo</text>
<text x="653.3" y="661.4" textLength="41.7" lengthAdjust="spacingAndGlyphs">territorial</text>
<text x="653.1" y="671.7" textLength="38.5" lengthAdjust="spacingAndGlyphs">insular y</text>
<text x="653.7" y="681.7" textLength="40.6" lengthAdjust="spacingAndGlyphs">maritimo</text>
<text x="652.8" y="690.9" textLength="44.1" lengthAdjust="spacingAndGlyphs">pendiente</text>
<text x="653.5" y="701.3" textLength="50.6" lengthAdjust="spacingAndGlyphs">de resolver</text>
</g>
</svg>
</body></html>
